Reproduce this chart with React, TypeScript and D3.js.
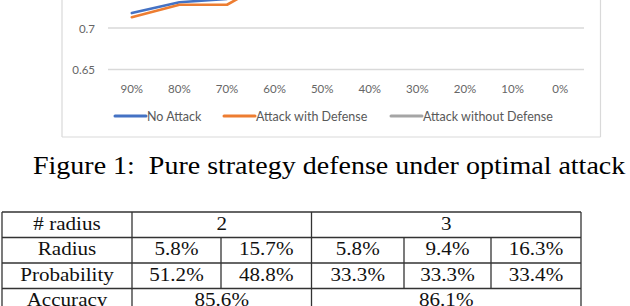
import React from "react";
import * as d3 from "d3";

const categories = ["90%", "80%", "70%", "60%", "50%", "40%", "30%", "20%", "10%", "0%"];
const noAttack = [0.718, 0.731, 0.735, 0.765, 0.79, 0.81, 0.83, 0.845, 0.855, 0.86];
const attackWithDefense = [0.713, 0.728, 0.728, 0.76, 0.795, 0.815, 0.832, 0.848, 0.855, 0.86];
const attackWithoutDefense = [0.75, 0.77, 0.785, 0.8, 0.815, 0.83, 0.84, 0.85, 0.855, 0.86];
const yTicks = [0.65, 0.7, 0.75, 0.8, 0.85, 0.9];
const seriesNames = ["No Attack", "Attack with Defense", "Attack without Defense"];
const seriesColors = ["#4472C4", "#ED7D31", "#A5A5A5"];

const caption = "Figure 1:  Pure strategy defense under optimal attack";
const headerLabels = ["# radius", "Radius", "Probability", "Accuracy"];
const radiusCounts = ["2", "3"];
const radii = ["5.8%", "15.7%", "5.8%", "9.4%", "16.3%"];
const probabilities = ["51.2%", "48.8%", "33.3%", "33.3%", "33.4%"];
const accuracies = ["85.6%", "86.1%"];

export default function App() {
  const x = d3.scaleBand<string>().domain(categories).range([108, 584]);
  const cx = (c: string) => (x(c) as number) + x.bandwidth() / 2;
  const y = d3.scaleLinear().domain([0.65, 0.7]).range([69.5, 28]);
  const line = d3
    .line<number>()
    .x((_, i) => cx(categories[i]))
    .y((v) => y(v));
  const series = [noAttack, attackWithDefense, attackWithoutDefense];
  const legendX = [115, 224, 391];
  const visibleTicks = yTicks.filter((t) => y(t) >= 0);

  // table geometry
  const colX = [2, 132, 221, 311.5, 404, 491, 581];
  const rowY = [212, 237.5, 263, 288.5, 314];
  const sx = 1.14;
  const tableFont = "'Liberation Serif', 'Times New Roman', serif";
  const cellText = (t: string, x0: number, x1: number, row: number, key: string) => (
    <text
      key={key}
      transform={`translate(${(x0 + x1) / 2},${rowY[row] + 17.5}) scale(${sx},1)`}
      textAnchor="middle"
      fontFamily={tableFont}
      fontSize={18.5}
      fill="#111"
    >
      {t}
    </text>
  );

  const cells: React.ReactNode[] = [];
  headerLabels.forEach((h, r) => cells.push(cellText(h, colX[0], colX[1], r, "h" + r)));
  cells.push(cellText(radiusCounts[0], colX[1], colX[3], 0, "rc0"));
  cells.push(cellText(radiusCounts[1], colX[3], colX[6], 0, "rc1"));
  radii.forEach((t, i) => cells.push(cellText(t, colX[i + 1], colX[i + 2], 1, "r" + i)));
  probabilities.forEach((t, i) => cells.push(cellText(t, colX[i + 1], colX[i + 2], 2, "p" + i)));
  cells.push(cellText(accuracies[0], colX[1], colX[3], 3, "a0"));
  cells.push(cellText(accuracies[1], colX[3], colX[6], 3, "a1"));

  const lines: React.ReactNode[] = [];
  rowY.slice(0, 4).forEach((ry, i) =>
    lines.push(<line key={"hl" + i} x1={colX[0]} x2={colX[6]} y1={ry} y2={ry} />)
  );
  [0, 1, 3, 6].forEach((c) =>
    lines.push(<line key={"vf" + c} x1={colX[c]} x2={colX[c]} y1={rowY[0]} y2={rowY[4]} />)
  );
  [2, 4, 5].forEach((c) =>
    lines.push(<line key={"vi" + c} x1={colX[c]} x2={colX[c]} y1={rowY[1]} y2={rowY[3]} />)
  );

  return (
    <svg
      width={630}
      height={306}
      style={{ position: "absolute", left: 0, top: 0, background: "#fff" }}
    >
      <rect width={630} height={306} fill="#fff" />
      {/* chart frame */}
      <g stroke="#D9D9D9" strokeWidth={1.2} fill="none">
        <line x1={62} x2={62} y1={-200} y2={137} />
        <line x1={600.5} x2={600.5} y1={-200} y2={137} />
        <line x1={62} x2={600.5} y1={137} y2={137} />
      </g>
      {/* gridlines */}
      <g stroke="#D9D9D9" strokeWidth={1.3}>
        {yTicks.map((t) => (
          <line key={t} x1={108} x2={584} y1={y(t)} y2={y(t)} />
        ))}
      </g>
      <g fontFamily="Lato, 'Open Sans', sans-serif" fontSize={11.5} fill="#666">
        {visibleTicks.map((t) => (
          <text key={t} x={95} y={y(t)} textAnchor="end" dominantBaseline="central">
            {d3.format("")(t)}
          </text>
        ))}
        {categories.map((c) => (
          <text key={c} x={cx(c)} y={88} textAnchor="middle" dominantBaseline="central">
            {c}
          </text>
        ))}
      </g>
      {[2, 0, 1].map((i) => (
        <path
          key={seriesNames[i]}
          d={line(series[i]) as string}
          fill="none"
          stroke={seriesColors[i]}
          strokeWidth={2.6}
          strokeLinejoin="round"
          strokeLinecap="round"
        />
      ))}
      {/* legend */}
      <g fontFamily="Lato, 'Open Sans', sans-serif" fontSize={12.5} fill="#595959">
        {seriesNames.map((n, i) => (
          <g key={n}>
            <line
              x1={legendX[i]}
              x2={legendX[i] + 31}
              y1={116}
              y2={116}
              stroke={seriesColors[i]}
              strokeWidth={3}
              strokeLinecap="round"
            />
            <text x={legendX[i] + 32} y={116} dominantBaseline="central">
              {n}
            </text>
          </g>
        ))}
      </g>
      {/* caption */}
      <text
        transform={`translate(33,174.3) scale(1.12,1)`}
        fontFamily={tableFont}
        fontSize={25}
        fill="#000"
        style={{ whiteSpace: "pre" }}
      >
        {caption}
      </text>
      {/* table */}
      <g stroke="#333" strokeWidth={1.3}>{lines}</g>
      {cells}
    </svg>
  );
}
